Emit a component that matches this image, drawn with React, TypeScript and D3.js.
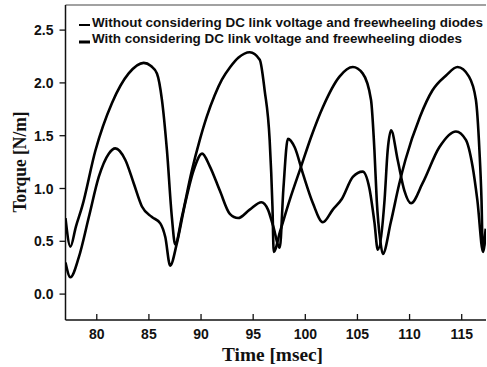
import React from "react";
import * as d3 from "d3";

// time axis (msec) and the two torque traces
const timeWithout = [
  77.0, 77.47, 78.0, 78.6, 79.87, 81.46, 83.06, 84.5, 85.2, 85.77, 86.25, 86.73,
  87.2, 87.52, 88.16, 89.12, 89.88, 90.55, 91.3, 92.0, 92.8, 93.6, 94.67,
  95.63, 96.1, 96.58, 96.85, 96.97, 97.6, 98.5, 99.6, 100.6, 101.68, 103.28,
  104.56, 105.5, 106.3, 106.63, 106.85, 107.2, 107.43, 108.2, 109.0, 109.6,
  111.0, 112.2, 113.5, 114.6, 115.7, 116.36, 116.7, 116.9, 117.02, 117.3,
];
const torqueWithout = [
  0.72, 0.45, 0.64, 0.83, 1.36, 1.81, 2.09, 2.19, 2.16, 2.09, 1.84, 1.36,
  0.73, 0.47, 0.73, 1.17, 1.46, 1.68, 1.88, 2.03, 2.15, 2.24, 2.29,
  2.22, 1.93, 1.46, 0.83, 0.4, 0.6, 0.89, 1.21, 1.5, 1.77, 2.06,
  2.15, 2.09, 1.84, 1.36, 0.89, 0.5, 0.38, 0.68, 1.04, 1.27,
  1.68, 1.93, 2.07, 2.15, 2.06, 1.84, 1.36, 0.89, 0.42, 0.62,
];

const timeWith = [
  77.0, 77.47, 78.28, 79.24, 80.19, 81.15, 81.78, 82.74, 83.54, 84.33, 85.29,
  86.09, 86.57, 87.04, 87.68, 88.48, 89.28, 90.1, 90.84, 91.8, 92.76, 93.55,
  94.67, 95.79, 96.42, 96.9, 97.55, 97.9, 98.33, 98.98, 99.77, 100.73, 101.68,
  102.64, 103.5, 104.56, 105.5, 106.15, 106.63, 106.95, 107.6, 107.9, 108.23,
  108.86, 109.5, 110.14, 111.25, 112.85, 114.45, 115.4, 116.04, 116.5, 117.05,
  117.3,
];
const torqueWith = [
  0.3, 0.16, 0.35, 0.73, 1.11, 1.33, 1.38, 1.27, 1.05, 0.83, 0.73,
  0.67, 0.54, 0.27, 0.48, 0.86, 1.17, 1.33, 1.21, 0.98, 0.76, 0.72,
  0.8, 0.87, 0.8, 0.65, 0.44, 1.0, 1.47, 1.39, 1.14, 0.86, 0.68,
  0.8, 0.9, 1.11, 1.16, 1.0, 0.68, 0.42, 0.89, 1.36, 1.55,
  1.27, 0.98, 0.86, 1.05, 1.39, 1.54, 1.46, 1.21, 0.89, 0.4,
  0.58,
];

const xTicks = [80, 85, 90, 95, 100, 105, 110, 115];
const yTicks = [0.0, 0.5, 1.0, 1.5, 2.0, 2.5];
const legendLabels = [
  "Without considering DC link voltage and freewheeling diodes",
  "With considering DC link voltage and freewheeling diodes",
];

const W = 487,
  H = 367;
const left = 65.5,
  right = 486,
  top = 4,
  bottom = 320;

const sans = "'Liberation Sans', Arial, sans-serif";
const serif = "'Liberation Serif', 'Times New Roman', serif";

export default function App() {
  const x = d3.scaleLinear().domain([77, 117.33]).range([left, right]);
  const y = d3.scaleLinear().domain([-0.25, 2.75]).range([bottom + 0.5, top - 0.3]);

  const line = d3
    .line<[number, number]>()
    .x((d) => x(d[0]))
    .y((d) => y(d[1]))
    .curve(d3.curveMonotoneX);

  const seriesA = timeWithout.map((t, i) => [t, torqueWithout[i]] as [number, number]);
  const seriesB = timeWith.map((t, i) => [t, torqueWith[i]] as [number, number]);

  return (
    <svg
      width={W}
      height={H}
      style={{ position: "absolute", left: 0, top: 0, background: "#fff" }}
    >
      <rect width={W} height={H} fill="#fff" />
      <defs>
        <clipPath id="plot">
          <rect x={left} y={top} width={right - left} height={bottom - top} />
        </clipPath>
      </defs>

      {/* frame */}
      <line x1={left} x2={right} y1={top + 1} y2={top + 1} stroke="#444" strokeWidth={1.2} />
      <line x1={left} x2={left} y1={top + 1} y2={bottom} stroke="#111" strokeWidth={1.5} />
      <line x1={left} x2={right} y1={bottom} y2={bottom} stroke="#111" strokeWidth={1.5} />

      {/* y ticks, outside */}
      {yTicks.map((v) => (
        <g key={v}>
          <line x1={left - 6} x2={left} y1={y(v)} y2={y(v)} stroke="#111" strokeWidth={1.3} />
          <text
            x={left - 12}
            y={y(v)}
            dy="0.36em"
            textAnchor="end"
            fontFamily={sans}
            fontWeight="bold"
            fontSize={14}
            fill="#111"
          >
            {v.toFixed(1)}
          </text>
        </g>
      ))}

      {/* x ticks, inside */}
      {xTicks.map((t) => (
        <g key={t}>
          <line x1={x(t)} x2={x(t)} y1={bottom - 6} y2={bottom} stroke="#111" strokeWidth={1.3} />
          <text
            x={x(t)}
            y={338.5}
            textAnchor="middle"
            fontFamily={sans}
            fontWeight="bold"
            fontSize={14}
            fill="#111"
          >
            {t}
          </text>
        </g>
      ))}

      {/* traces */}
      <g clipPath="url(#plot)" fill="none" stroke="#000" strokeWidth={2.6} strokeLinejoin="round">
        <path d={line(seriesA) ?? ""} />
        <path d={line(seriesB) ?? ""} />
      </g>

      {/* legend */}
      <line x1={79} x2={90} y1={25} y2={25} stroke="#000" strokeWidth={2} />
      <text
        x={92}
        y={26.7}
        fontFamily={sans}
        fontWeight="bold"
        fontSize={12}
        textLength={391}
        lengthAdjust="spacingAndGlyphs"
        fill="#111"
      >
        {legendLabels[0]}
      </text>
      <line x1={79} x2={90} y1={42} y2={42} stroke="#000" strokeWidth={3} />
      <text
        x={92}
        y={43.3}
        fontFamily={sans}
        fontWeight="bold"
        fontSize={12}
        textLength={370}
        lengthAdjust="spacingAndGlyphs"
        fill="#111"
      >
        {legendLabels[1]}
      </text>

      {/* axis titles */}
      <text
        x={272.5}
        y={361}
        textAnchor="middle"
        fontFamily={serif}
        fontWeight="bold"
        fontSize={18}
        textLength={101}
        lengthAdjust="spacingAndGlyphs"
        fill="#111"
      >
        Time [msec]
      </text>
      <text
        transform="translate(26,162) rotate(-90)"
        textAnchor="middle"
        fontFamily={serif}
        fontWeight="bold"
        fontSize={18}
        textLength={101}
        lengthAdjust="spacingAndGlyphs"
        fill="#111"
      >
        Torque [N/m]
      </text>
    </svg>
  );
}
